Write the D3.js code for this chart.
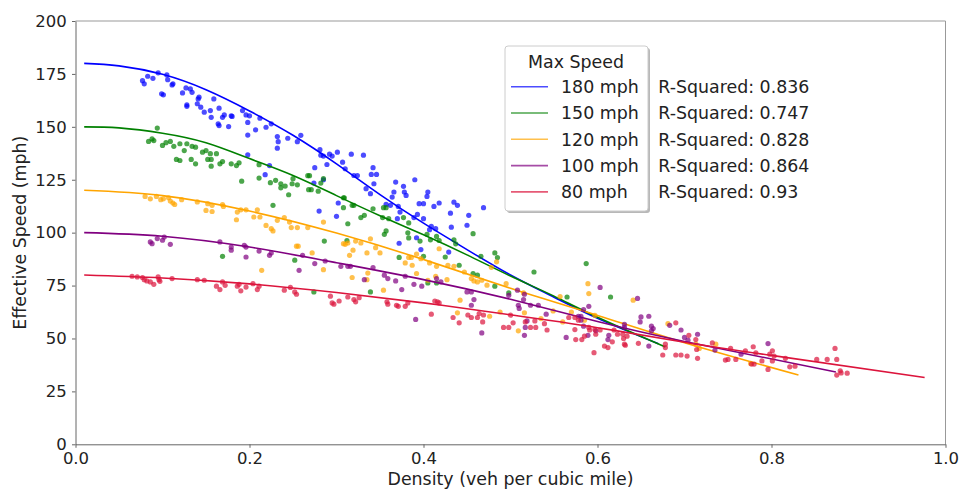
<!DOCTYPE html>
<html lang="en">
<head>
<meta charset="utf-8">
<title>Effective Speed vs Density</title>
<script src="https://cdnjs.cloudflare.com/ajax/libs/d3/7.8.5/d3.min.js"></script>
<style>
  body { margin: 0; background: #fff; }
  text { font-family: "DejaVu Sans", sans-serif; fill: #222; }
</style>
</head>
<body>
<script>
const series_names = ["180 mph", "150 mph", "120 mph", "100 mph", "80 mph"]
const series_colors = ["blue", "green", "orange", "purple", "crimson"]
const r_squared = ["0.836", "0.747", "0.828", "0.864", "0.93"]
const x_ticks = [0, 0.2, 0.4, 0.6, 0.8, 1.0]
const y_ticks = [0, 25, 50, 75, 100, 125, 150, 175, 200]

// fitted curves as [density, speed]
const fit_180 = [[0.01,180],[0.05,178.8],[0.1,174.8],[0.15,167.5],[0.2,157.5],[0.25,146],[0.3,132.5],[0.35,118],[0.4,104.5],[0.45,92],[0.5,80],[0.55,69.5],[0.6,59.5],[0.67,47.5]]
const fit_150 = [[0.01,150],[0.05,149.5],[0.1,147],[0.15,142.5],[0.2,135],[0.25,127],[0.3,117.5],[0.35,108],[0.4,99],[0.45,89.5],[0.5,79.5],[0.55,70],[0.6,60],[0.678,46]]
const fit_120 = [[0.01,120],[0.1,117.5],[0.2,110.2],[0.3,99.8],[0.4,87.3],[0.5,73.7],[0.6,60.9],[0.7,48],[0.831,32.7]]
const fit_100 = [[0.01,100],[0.1,98.3],[0.2,93.2],[0.3,85.8],[0.4,77.8],[0.5,68.5],[0.6,58],[0.7,48.6],[0.874,34.2]]
const fit_80 = [[0.01,80],[0.1,78.6],[0.2,75.8],[0.3,71.7],[0.4,66.8],[0.5,61.2],[0.6,55.1],[0.7,48.2],[0.8,42],[0.976,31.6]]

// observations [density, speed]
const obs_180 = [[0.077,171.8],[0.079,170.3],[0.083,173.9],[0.089,172.9],[0.095,175.5],[0.105,174.5],[0.106,172.3],[0.111,169.8],[0.112,170.3],[0.099,165.6],[0.101,165.1],[0.123,166.0],[0.127,168.4],[0.132,167.9],[0.134,166.3],[0.128,160.4],[0.128,159.7],[0.142,164.0],[0.141,163.2],[0.140,160.9],[0.144,159.3],[0.148,156.9],[0.155,157.7],[0.156,154.5],[0.159,163.2],[0.165,158.8],[0.169,154.5],[0.171,155.6],[0.164,151.4],[0.165,150.6],[0.176,150.1],[0.179,155.2],[0.180,154.9],[0.192,157.7],[0.196,155.6],[0.200,155.2],[0.198,152.1],[0.198,146.1],[0.207,148.6],[0.212,154.1],[0.219,149.8],[0.225,151.4],[0.232,145.4],[0.233,143.0],[0.232,139.9],[0.244,144.6],[0.255,143.0],[0.259,146.0],[0.198,136.8],[0.223,131.7],[0.218,127.4],
  [0.281,139.2],[0.282,136.6],[0.285,136.2],[0.292,137.1],[0.295,136.2],[0.301,138.0],[0.289,132.2],[0.307,133.3],[0.317,137.1],[0.331,136.6],[0.310,130.2],[0.320,127.0],[0.324,127.0],[0.275,130.7],[0.342,130.7],[0.340,127.5],[0.346,127.5],[0.274,123.4],[0.285,125.0],[0.343,123.1],[0.334,120.8],[0.339,118.4],[0.368,123.9],[0.377,121.9],[0.390,125.0],[0.378,119.2],[0.380,117.6],[0.366,119.2],[0.364,116.8],[0.357,113.4],[0.362,112.9],[0.371,112.4],[0.373,109.7],[0.370,106.6],[0.302,114.0],[0.280,110.2],[0.300,107.7],[0.389,107.1],[0.393,108.6],[0.395,113.7],[0.400,113.7],[0.405,119.2],[0.404,117.1],[0.418,114.0],[0.412,112.4],[0.400,106.6],[0.407,101.4],[0.409,103.0],[0.414,101.9],[0.392,97.6],[0.397,92.0],[0.435,114.4],[0.439,112.9],[0.431,109.2],[0.452,108.2],[0.469,111.8],[0.432,102.6],[0.450,103.5],[0.429,90.8],[0.372,95.0]]
const obs_150 = [[0.094,149.4],[0.084,143.1],[0.088,144.3],[0.090,143.5],[0.100,141.2],[0.104,142.5],[0.109,143.1],[0.113,140.8],[0.120,142.0],[0.125,138.8],[0.128,142.0],[0.134,140.8],[0.138,140.4],[0.133,134.6],[0.116,134.6],[0.120,134.1],[0.138,132.5],[0.146,138.0],[0.150,138.8],[0.155,137.3],[0.156,134.6],[0.152,134.6],[0.156,131.4],[0.162,137.3],[0.166,132.5],[0.169,133.6],[0.179,132.5],[0.185,131.7],[0.188,133.0],[0.191,124.3],[0.211,132.1],[0.211,125.8],[0.224,123.6],[0.230,124.7],[0.236,123.1],[0.236,121.2],[0.241,122.0],[0.245,117.9],[0.249,123.1],[0.250,125.5],[0.255,122.6],
  [0.227,112.9],[0.169,88.8],[0.252,87.0],
  [0.267,126.9],[0.269,126.9],[0.268,120.3],[0.271,120.3],[0.279,119.6],[0.282,123.4],[0.285,125.5],[0.308,116.5],[0.309,116.5],[0.308,111.8],[0.318,112.9],[0.320,112.9],[0.328,107.1],[0.332,108.2],[0.342,111.3],[0.354,111.8],[0.357,111.8],[0.313,104.2],[0.286,96.0],[0.312,96.3],[0.353,107.1],[0.360,106.6],[0.357,100.8],[0.355,99.2],[0.377,107.1],[0.383,104.6],[0.382,99.9],[0.383,97.5],[0.372,88.3],[0.404,99.2],[0.408,96.6],[0.415,98.2],[0.418,96.3],[0.396,96.0],[0.400,88.8],[0.425,88.5],[0.435,96.6],[0.437,94.7],[0.457,99.5],[0.466,88.8],[0.482,90.4],[0.485,88.2],[0.441,84.6],
  [0.274,72.0],[0.339,72.0],[0.405,76.2],[0.415,76.2],[0.457,80.7],[0.462,79.9],[0.482,74.7],
  [0.527,81.4],[0.587,85.4],[0.565,69.6],[0.615,69.6],[0.498,71.5]]
const obs_120 = [[0.080,117.1],[0.086,116.0],[0.093,117.1],[0.098,115.6],[0.101,116.0],[0.107,116.5],[0.109,114.9],[0.112,114.0],[0.114,113.3],[0.122,115.6],[0.140,114.5],[0.152,113.7],[0.157,112.9],[0.150,110.5],[0.157,110.0],[0.169,113.3],[0.170,112.4],[0.186,109.7],[0.190,110.8],[0.196,110.8],[0.185,106.1],[0.205,107.4],[0.209,110.8],[0.212,107.4],[0.219,103.4],[0.225,101.9],[0.227,100.8],[0.232,105.8],[0.240,107.1],[0.246,105.0],[0.248,102.4],[0.255,102.4],[0.254,93.6],[0.256,93.6],[0.214,82.2],
  [0.267,102.4],[0.285,105.0],[0.308,94.8],[0.310,94.5],[0.313,95.1],[0.315,89.3],[0.319,91.7],[0.322,96.0],[0.328,95.1],[0.339,97.1],[0.335,90.4],[0.350,90.4],[0.345,92.9],[0.379,85.7],[0.383,88.3],[0.386,88.3],[0.392,89.9],[0.387,84.6],[0.397,87.7],[0.407,85.7],[0.415,84.1],[0.428,84.6],[0.435,84.1],[0.484,86.2],[0.478,83.6],
  [0.272,90.4],[0.285,82.5],[0.418,92.4],[0.318,78.8],[0.336,80.9],[0.335,77.8],[0.354,72.8],[0.392,80.7],[0.405,77.5],[0.414,79.4],[0.427,77.8],[0.442,68.1],[0.439,62.1],[0.447,81.4],[0.455,78.3],[0.458,77.2],[0.462,76.7],[0.467,77.5],[0.473,75.2],[0.476,60.5],[0.488,62.5],
  [0.495,75.9],[0.515,71.5],[0.557,69.8],[0.589,75.9],[0.590,71.2],[0.641,68.1],[0.509,53.6],[0.516,62.1],[0.535,59.4],[0.549,63.0],[0.560,57.8],[0.570,62.5],[0.585,58.6],[0.597,60.9],[0.681,57.0],[0.713,47.3],[0.717,45.3],
  [0.736,47.3],[0.776,38.2]]
const obs_100 = [[0.086,95.6],[0.088,94.8],[0.094,97.2],[0.100,96.4],[0.102,97.9],[0.109,94.5],[0.166,95.6],[0.179,93.2],[0.179,91.7],[0.194,94.0],[0.196,93.2],[0.196,88.5],[0.211,91.3],[0.223,89.3],[0.225,90.4],[0.257,82.2],[0.261,89.3],
  [0.275,85.4],[0.287,86.6],[0.305,84.1],[0.313,84.1],[0.316,84.1],[0.342,83.5],[0.332,77.8],[0.355,79.9],[0.359,78.3],[0.368,77.2],[0.379,79.4],[0.389,75.6],[0.398,74.7],[0.375,73.1],[0.415,78.3],[0.420,76.7],[0.450,72.0],[0.455,72.0],[0.458,68.4],[0.455,65.7],[0.391,59.0],[0.467,52.6],
  [0.498,70.4],[0.508,72.8],[0.516,70.9],[0.515,68.4],[0.509,65.7],[0.510,64.2],[0.523,65.7],[0.532,65.7],[0.541,61.5],[0.519,58.3],[0.517,55.2],[0.516,51.5],[0.564,50.5],[0.578,60.5],[0.581,60.5],[0.584,63.7],[0.590,65.2],[0.581,58.6],[0.584,55.8],[0.598,53.6],[0.589,51.5],[0.603,74.1],[0.613,51.5],[0.612,49.5],[0.631,56.7],[0.631,55.2],[0.646,68.9],[0.650,60.2],[0.659,60.5],[0.649,57.8],[0.662,55.8],[0.664,54.7],[0.662,53.6],[0.683,56.2],[0.696,54.0],[0.700,50.5],[0.704,49.2],[0.659,46.4],
  [0.715,52.0],[0.735,44.5],[0.796,47.6],[0.765,42.6]]
const obs_80 = [[0.065,79.4],[0.071,79.1],[0.077,78.8],[0.079,77.8],[0.082,77.2],[0.086,76.7],[0.090,75.6],[0.095,79.1],[0.096,77.8],[0.097,77.0],[0.111,78.3],[0.140,77.8],[0.148,77.5],[0.162,74.7],[0.166,73.1],[0.169,76.7],[0.172,75.1],[0.186,74.7],[0.188,75.6],[0.190,72.5],[0.196,74.3],[0.204,75.9],[0.209,73.1],[0.211,74.7],[0.240,72.8],[0.247,74.1],[0.252,72.0],[0.254,70.9],
  [0.293,70.0],[0.295,66.8],[0.297,66.2],[0.303,67.7],[0.313,69.6],[0.320,68.4],[0.322,67.3],[0.326,69.3],[0.358,67.3],[0.359,66.2],[0.369,65.7],[0.371,65.2],[0.379,65.2],[0.382,66.8],[0.413,67.7],[0.416,67.3],[0.418,66.8],[0.409,61.5],[0.434,59.9],[0.441,57.4],[0.451,61.1],[0.455,59.9],[0.462,59.9],[0.464,61.8],[0.469,61.1],[0.468,57.8],
  [0.500,61.0],[0.492,55.2],[0.498,55.2],[0.503,57.4],[0.517,57.8],[0.523,55.2],[0.529,55.2],[0.528,58.3],[0.539,57.0],[0.542,54.0],[0.567,59.9],[0.574,59.9],[0.574,54.2],[0.578,58.6],[0.575,49.5],[0.582,49.5],[0.585,51.1],[0.590,55.2],[0.591,54.0],[0.597,54.2],[0.598,52.0],[0.603,54.0],[0.608,46.4],[0.612,45.7],[0.596,43.3],[0.617,48.4],[0.619,54.0],[0.623,52.0],[0.629,52.0],[0.630,50.0],[0.631,47.3],[0.632,46.8],[0.634,51.1],[0.647,47.7],[0.678,47.3],[0.678,45.7],[0.675,42.2],[0.690,57.4],[0.690,42.2],[0.696,42.2],[0.703,41.7],[0.705,51.5],[0.713,49.5],[0.715,40.6],
  [0.714,44.8],[0.732,47.9],[0.747,39.8],[0.750,40.1],[0.753,45.3],[0.759,40.1],[0.770,44.2],[0.777,37.9],[0.780,37.9],[0.779,46.1],[0.782,43.2],[0.789,39.4],[0.796,35.4],[0.798,42.6],[0.801,44.2],[0.801,39.4],[0.803,41.7],[0.816,40.6],[0.821,36.6],[0.827,36.9],[0.852,40.1],[0.864,40.1],[0.873,45.3],[0.875,40.1],[0.875,32.7],[0.879,34.7],[0.880,33.7],[0.887,33.6]]

const fits = [fit_180, fit_150, fit_120, fit_100, fit_80]
const observations = [obs_180, obs_150, obs_120, obs_100, obs_80]

const w = 961
const h = 490
const plot_left = 75.5, plot_right = 945.5, plot_top = 21, plot_bottom = 444.3

const svg = d3.select("body").append("svg")
              .attr("width", w)
              .attr("height", h)

const x = d3.scaleLinear().domain([0, 1]).range([plot_left, plot_right])
const y = d3.scaleLinear().domain([0, 200]).range([plot_bottom, plot_top])

const line = d3.line()
               .x(d => x(d[0]))
               .y(d => y(d[1]))
               .curve(d3.curveNatural)

// one scatter + one fitted line per series, in legend order
series_names.forEach((name, i) => {
    svg.append("g")
       .selectAll("circle")
       .data(observations[i])
       .enter()
       .append("circle")
       .attr("cx", d => x(d[0]))
       .attr("cy", d => y(d[1]))
       .attr("r", 2.6)
       .attr("fill", series_colors[i])
       .attr("fill-opacity", 0.7)

    svg.append("path")
       .datum(fits[i])
       .attr("d", line)
       .attr("fill", "none")
       .attr("stroke", series_colors[i])
       .attr("stroke-width", 1.6)
})

// frame
svg.append("line").attr("x1", plot_left).attr("x2", plot_right).attr("y1", plot_top).attr("y2", plot_top).attr("stroke", "#999")
svg.append("line").attr("x1", plot_right).attr("x2", plot_right).attr("y1", plot_top).attr("y2", plot_bottom).attr("stroke", "#999")

const x_axis = svg.append("g")
                  .attr("transform", `translate(0,${plot_bottom})`)
                  .call(d3.axisBottom(x).tickValues(x_ticks).tickFormat(d3.format(".1f"))
                          .tickSize(3.5).tickSizeOuter(0).tickPadding(4.5))
const y_axis = svg.append("g")
                  .attr("transform", `translate(${plot_left},0)`)
                  .call(d3.axisLeft(y).tickValues(y_ticks).tickSize(3.5).tickSizeOuter(0).tickPadding(5.3))

;[x_axis, y_axis].forEach(a => {
    a.select(".domain").attr("stroke", "#666")
    a.selectAll(".tick line").attr("stroke", "#666")
    a.selectAll(".tick text").attr("font-size", "16.5px").attr("fill", "#222")
       .attr("font-family", "DejaVu Sans")
})

svg.append("text")
   .attr("x", (plot_left + plot_right) / 2)
   .attr("y", 485)
   .attr("text-anchor", "middle")
   .attr("font-size", "17.4px")
   .text("Density (veh per cubic mile)")

svg.append("text")
   .attr("transform", `translate(26,${(plot_top + plot_bottom) / 2}) rotate(-90)`)
   .attr("text-anchor", "middle")
   .attr("font-size", "17.4px")
   .text("Effective Speed (mph)")

// legend
const legend = svg.append("g")
legend.append("rect")
      .attr("x", 507).attr("y", 48).attr("width", 143).attr("height", 165)
      .attr("rx", 3).attr("fill", "#888").attr("fill-opacity", 0.6)
legend.append("rect")
      .attr("x", 505).attr("y", 46).attr("width", 143).attr("height", 165)
      .attr("rx", 3).attr("fill", "#fff").attr("stroke", "#ccc")
legend.append("text")
      .attr("x", 576).attr("y", 68)
      .attr("text-anchor", "middle")
      .attr("font-size", "17.4px")
      .text("Max Speed")

const row_y = (i) => { return 86.7 + i * 26.3 }
series_names.forEach((name, i) => {
    legend.append("line")
          .attr("x1", 511).attr("x2", 548)
          .attr("y1", row_y(i)).attr("y2", row_y(i))
          .attr("stroke", series_colors[i])
          .attr("stroke-opacity", 0.7)
          .attr("stroke-width", 1.6)
    legend.append("text")
          .attr("x", 561).attr("y", row_y(i) + 6.3)
          .attr("font-size", "17.4px")
          .text(name)
    svg.append("text")
       .attr("x", 658.3).attr("y", row_y(i) + 6.3)
       .attr("font-size", "17.4px")
       .text("R-Squared: " + r_squared[i])
})
</script>
</body>
</html>
